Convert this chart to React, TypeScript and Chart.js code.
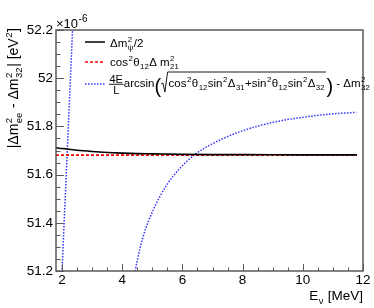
import React, { useEffect, useRef } from 'react';
import { Chart, registerables } from 'chart.js';

Chart.register(...registerables);

const FONT = '"Liberation Sans", Arial, Helvetica, sans-serif';

// ---- data ----
const energyGrid = [1.8, 2, 2.5, 3, 3.5, 4, 4.5, 5, 6, 7, 8, 10, 11.8];
const halfPsiMass = [51.712, 51.708, 51.701, 51.696, 51.692, 51.689, 51.687, 51.686, 51.684, 51.683, 51.683, 51.682, 51.682];
const cosSolarMass = [51.681, 51.681, 51.681, 51.681, 51.681, 51.681, 51.681, 51.681, 51.681, 51.681, 51.681, 51.681, 51.681];
const arcsinEnergy = [1.95, 2.0, 2.35, 2.42, 3.2, 4.3, 4.43, 4.68, 5.03, 5.48, 5.92, 6.42, 7.03, 7.91, 9.02, 10.13, 11.0, 11.78];
const arcsinMass = [51.057, 51.2, 52.2, 52.4, null, 51.1, 51.2, 51.336, 51.453, 51.557, 51.626, 51.684, 51.73, 51.778, 51.817, 51.84, 51.852, 51.858];

const xLabels = [2, 4, 6, 8, 10, 12];
const yLabels = [51.2, 51.4, 51.6, 51.8, 52, 52.2];
const xRange = [1.8, 12];
const yRange = [51.2, 52.2];
const xMinorStep = 0.5;
const yMinorStep = 0.05;

type Piece = { t?: string; sup?: string; sub?: string; size?: number; dy?: number };

function pieces(ctx: CanvasRenderingContext2D, list: Piece[], x0: number, y: number, base: number, draw = true): number {
  let x = x0;
  for (const p of list) {
    if (p.t !== undefined) {
      const s = p.size ?? base;
      ctx.font = `${s}px ${FONT}`;
      if (draw) ctx.fillText(p.t, x, y + (p.dy ?? 0));
      x += ctx.measureText(p.t).width;
    } else {
      const s = base * 0.68;
      ctx.font = `${s}px ${FONT}`;
      let w = 0;
      if (p.sup) {
        if (draw) ctx.fillText(p.sup, x + 0.5, y - base * 0.42);
        w = Math.max(w, ctx.measureText(p.sup).width);
      }
      if (p.sub) {
        if (draw) ctx.fillText(p.sub, x + 0.5, y + base * 0.28);
        w = Math.max(w, ctx.measureText(p.sub).width);
      }
      x += w + base * 0.08;
    }
  }
  return x;
}

function line(ctx: CanvasRenderingContext2D, x1: number, y1: number, x2: number, y2: number) {
  ctx.beginPath();
  ctx.moveTo(x1, y1);
  ctx.lineTo(x2, y2);
  ctx.stroke();
}

const decor = {
  id: 'rootDecor',
  afterDraw(chart: any) {
    const { ctx, chartArea: a, scales } = chart;
    const xs = scales.x;
    const ys = scales.y;
    ctx.save();
    // frame
    ctx.strokeStyle = '#5a5a5a';
    ctx.lineWidth = 1.5;
    ctx.strokeRect(a.left, a.top, a.right - a.left, a.bottom - a.top);
    // y ticks
    ctx.lineWidth = 1;
    const ny = Math.round((yRange[1] - yRange[0]) / yMinorStep);
    for (let i = 0; i <= ny; i++) {
      const v = yRange[0] + i * yMinorStep;
      const p = Math.round(ys.getPixelForValue(v)) + 0.5;
      const major = i % 4 === 0;
      line(ctx, a.left, p, a.left + (major ? 8 : 4.5), p);
    }
    // x ticks
    const nx = Math.round((xRange[1] - xLabels[0]) / xMinorStep);
    for (let i = 0; i <= nx; i++) {
      const v = xLabels[0] + i * xMinorStep;
      const p = Math.round(xs.getPixelForValue(v)) + 0.5;
      const major = i % 4 === 0;
      line(ctx, p, a.bottom, p, a.bottom - (major ? 7 : 3.5));
    }

    ctx.fillStyle = '#000';
    ctx.textBaseline = 'alphabetic';
    ctx.textAlign = 'left';

    // exponent
    ctx.font = `13px ${FONT}`;
    ctx.fillText('\u00d710', a.left, 27.5);
    const ew = ctx.measureText('\u00d710').width;
    ctx.font = `10px ${FONT}`;
    ctx.fillText('-6', a.left + ew + 0.5, 22);

    // y title (rotated)
    const yt: Piece[] = [
      { t: '|\u0394m' }, { sup: '2', sub: 'ee' }, { t: ' - \u0394m' }, { sup: '2', sub: '32' },
      { t: '| [eV' }, { sup: '2' }, { t: ']' },
    ];
    const ytBase = 14;
    const ytW = pieces(ctx, yt, 0, 0, ytBase, false);
    ctx.save();
    ctx.translate(18, 28 + ytW);
    ctx.rotate(-Math.PI / 2);
    pieces(ctx, yt, 0, 0, ytBase, true);
    ctx.restore();

    // x title
    const xt: Piece[] = [{ t: 'E' }, { sub: '\u03bd' }, { t: ' [MeV]' }];
    const xtW = pieces(ctx, xt, 0, 0, 13.5, false);
    pieces(ctx, xt, a.right - xtW, 300, 13.5, true);

    // ---- legend ----
    const lx1 = 85, lx2 = 105, tx = 110, base = 11.5;
    ctx.lineWidth = 1.5;
    ctx.strokeStyle = '#000';
    ctx.setLineDash([]);
    line(ctx, lx1, 42, lx2, 42);
    ctx.strokeStyle = 'rgb(255,0,0)';
    ctx.setLineDash([3, 2]);
    line(ctx, lx1, 62, lx2, 62);
    ctx.strokeStyle = 'rgb(50,50,255)';
    ctx.setLineDash([1.5, 1.5]);
    line(ctx, lx1, 84, lx2, 84);
    ctx.setLineDash([]);

    pieces(ctx, [{ t: '\u0394m' }, { sup: '2', sub: '\u03c8' }, { t: '/2' }], tx, 46.5, base);
    pieces(ctx, [{ t: 'cos' }, { sup: '2' }, { t: '\u03b8' }, { sub: '12' }, { t: '\u0394 m' }, { sup: '2', sub: '21' }], tx, 66, base);

    // third entry
    let x = tx - 1;
    const yb = 87;
    ctx.font = `11px ${FONT}`;
    const wn = ctx.measureText('4E').width;
    const wd = ctx.measureText('L').width;
    const fw = Math.max(wn, wd) + 1;
    ctx.fillText('4E', x + (fw - wn) / 2, 82.5);
    ctx.fillText('L', x + (fw - wd) / 2, 94);
    ctx.strokeStyle = '#000';
    ctx.lineWidth = 0.9;
    line(ctx, x, 84.3, x + fw, 84.3);
    x += fw + 0.3;
    x = pieces(ctx, [{ t: 'arcsin' }], x, yb, base);
    ctx.font = `20px ${FONT}`;
    ctx.fillText('(', x, 93);
    x += ctx.measureText('(').width;
    const rx = x;
    ctx.lineWidth = 0.9;
    ctx.beginPath();
    ctx.moveTo(rx, 84);
    ctx.lineTo(rx + 1.8, 83);
    ctx.lineTo(rx + 3.8, 92);
    ctx.lineTo(rx + 6.5, 72);
    ctx.stroke();
    x = rx + 7.5;
    const inner: Piece[] = [
      { t: 'cos' }, { sup: '2' }, { t: '\u03b8' }, { sub: '12' }, { t: 'sin' }, { sup: '2' }, { t: '\u0394' }, { sub: '31' },
      { t: '+sin' }, { sup: '2' }, { t: '\u03b8' }, { sub: '12' }, { t: 'sin' }, { sup: '2' }, { t: '\u0394' }, { sub: '32' },
    ];
    x = pieces(ctx, inner, x, yb, base);
    line(ctx, rx + 6.5, 72, x + 1, 72);
    x += 1.5;
    ctx.font = `20px ${FONT}`;
    ctx.fillText(')', x, 93);
    x += ctx.measureText(')').width;
    pieces(ctx, [{ t: ' - \u0394m' }, { sup: '2', sub: '32' }], x, yb, base);

    ctx.restore();
  },
};

export default function App() {
  const ref = useRef<HTMLCanvasElement>(null);
  useEffect(() => {
    const canvas = ref.current!;
    const chart = new Chart(canvas, {
      type: 'line',
      data: {
        datasets: [
          {
            label: 'half psi',
            data: energyGrid.map((e, i) => ({ x: e, y: halfPsiMass[i] })),
            borderColor: '#000',
            borderWidth: 1.6,
            pointRadius: 0,
            cubicInterpolationMode: 'monotone',
            clip: 0,
          },
          {
            label: 'cos',
            data: energyGrid.map((e, i) => ({ x: e, y: cosSolarMass[i] })),
            borderColor: 'rgb(255,0,0)',
            borderWidth: 1.8,
            borderDash: [3, 2],
            pointRadius: 0,
            clip: 0,
          },
          {
            label: 'arcsin',
            data: arcsinEnergy.map((e, i) => ({ x: e, y: arcsinMass[i] })),
            borderColor: 'rgb(50,50,255)',
            borderWidth: 1.5,
            borderDash: [1.5, 1.5],
            pointRadius: 0,
            spanGaps: false,
            cubicInterpolationMode: 'monotone',
            clip: 0,
          },
        ] as any,
      },
      options: {
        animation: false,
        responsive: false,
        devicePixelRatio: 1,
        layout: { padding: { left: 0, top: 30, right: 11, bottom: 0 } },
        plugins: { legend: { display: false }, tooltip: { enabled: false } },
        scales: {
          x: {
            type: 'linear',
            min: xRange[0],
            max: xRange[1],
            afterBuildTicks: (s: any) => { s.ticks = xLabels.map((v) => ({ value: v })); },
            afterFit: (s: any) => { s.height = 37; },
            grid: { display: false, drawTicks: false },
            border: { display: false },
            ticks: {
              autoSkip: false,
              maxRotation: 0,
              padding: 1,
              color: '#000',
              font: { family: FONT, size: 13.5 },
              callback: (v: any) => String(v),
            },
          },
          y: {
            type: 'linear',
            min: yRange[0],
            max: yRange[1],
            afterBuildTicks: (s: any) => { s.ticks = yLabels.map((v) => ({ value: v })); },
            afterFit: (s: any) => { s.width = 56; },
            grid: { display: false, drawTicks: false },
            border: { display: false },
            ticks: {
              autoSkip: false,
              padding: 3,
              color: '#000',
              font: { family: FONT, size: 13.5 },
              callback: (v: any) => String(Number(Number(v).toFixed(1))),
            },
          },
        },
      } as any,
      plugins: [decor],
    });
    return () => chart.destroy();
  }, []);
  return (
    <div style={{ position: 'fixed', left: 0, top: 0, width: 374, height: 308, background: '#fff' }}>
      <canvas ref={ref} width={374} height={308} style={{ display: 'block', width: 374, height: 308 }} />
    </div>
  );
}
